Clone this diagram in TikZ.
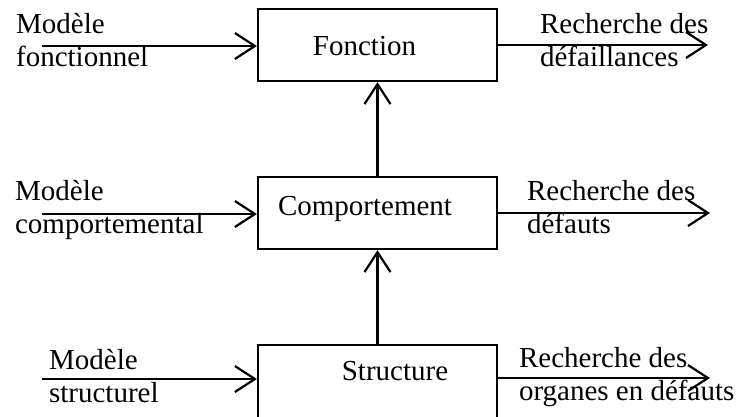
\documentclass[tikz,border=0pt]{standalone}
\usepackage{fontspec}
\setmainfont{Liberation Serif}
\usetikzlibrary{arrows.meta}

% two stacked lines whose reference point is the first baseline
\newcommand{\twolines}[2]{\begin{tabular}[t]{@{}l@{}}#1\\#2\end{tabular}}

\begin{document}
\fontsize{29}{33}\selectfont
\begin{tikzpicture}[x=1pt,y=-1pt,
    line width=2.2pt,
    blockbox/.style={draw, rectangle, minimum width=239pt, inner sep=0pt},
    blocktext/.style={anchor=base, inner sep=0pt},
    lbl/.style={anchor=base west, inner sep=0pt},
    flow/.style={-{Straight Barb[length=20pt,width=26pt,line width=2.2pt]}}]

  \useasboundingbox (0,0) rectangle (736,416);
  \clip (0,0) rectangle (736,416);

  % the three levels
  \node[blockbox, minimum height=72pt] (fn) at (377.5,45) {};
  \node[blockbox, minimum height=72pt] (cp) at (377.5,213) {};
  \node[blockbox, minimum height=95pt] (st) at (377.5,392.5) {};

  \node[blocktext] (fnt) at (364.5,55) {Fonction};
  \node[blocktext] (cpt) at (365,215) {Comportement};
  \node[blocktext] (stt) at (395,380) {Structure};

  % links between levels
  \draw[flow] (cp.north) -- (fn.south);
  \draw[flow] (st.north) -- (cp.south);

  % models coming in
  \coordinate (i1) at (42,46);
  \coordinate (i2) at (42,214);
  \coordinate (i3) at (42,379);
  \draw[flow] (i1) -- (i1 -| fn.west);
  \draw[flow] (i2) -- (i2 -| cp.west);
  \draw[flow] (i3) -- (i3 -| st.west);

  % searches going out
  \coordinate (o1) at (708,45);
  \coordinate (o2) at (710,213);
  \coordinate (o3) at (710,378);
  \draw[flow] (o1 -| fn.east) -- (o1);
  \draw[flow] (o2 -| cp.east) -- (o2);
  \draw[flow] (o3 -| st.east) -- (o3);

  % labels
  \node[lbl] (l1) at (15,33) {\twolines{Modèle}{fonctionnel}};
  \node[lbl] (l2) at (14,200) {\twolines{Modèle}{comportemental}};
  \node[lbl] (l3) at (48,369) {\twolines{Modèle}{structurel}};
  \node[lbl] (r1) at (539,33) {\twolines{Recherche des}{défaillances}};
  \node[lbl] (r2) at (526,200) {\twolines{Recherche des}{défauts}};
  \node[lbl] (r3) at (518,367) {\twolines{Recherche des}{organes en défauts}};
\end{tikzpicture}
\end{document}
